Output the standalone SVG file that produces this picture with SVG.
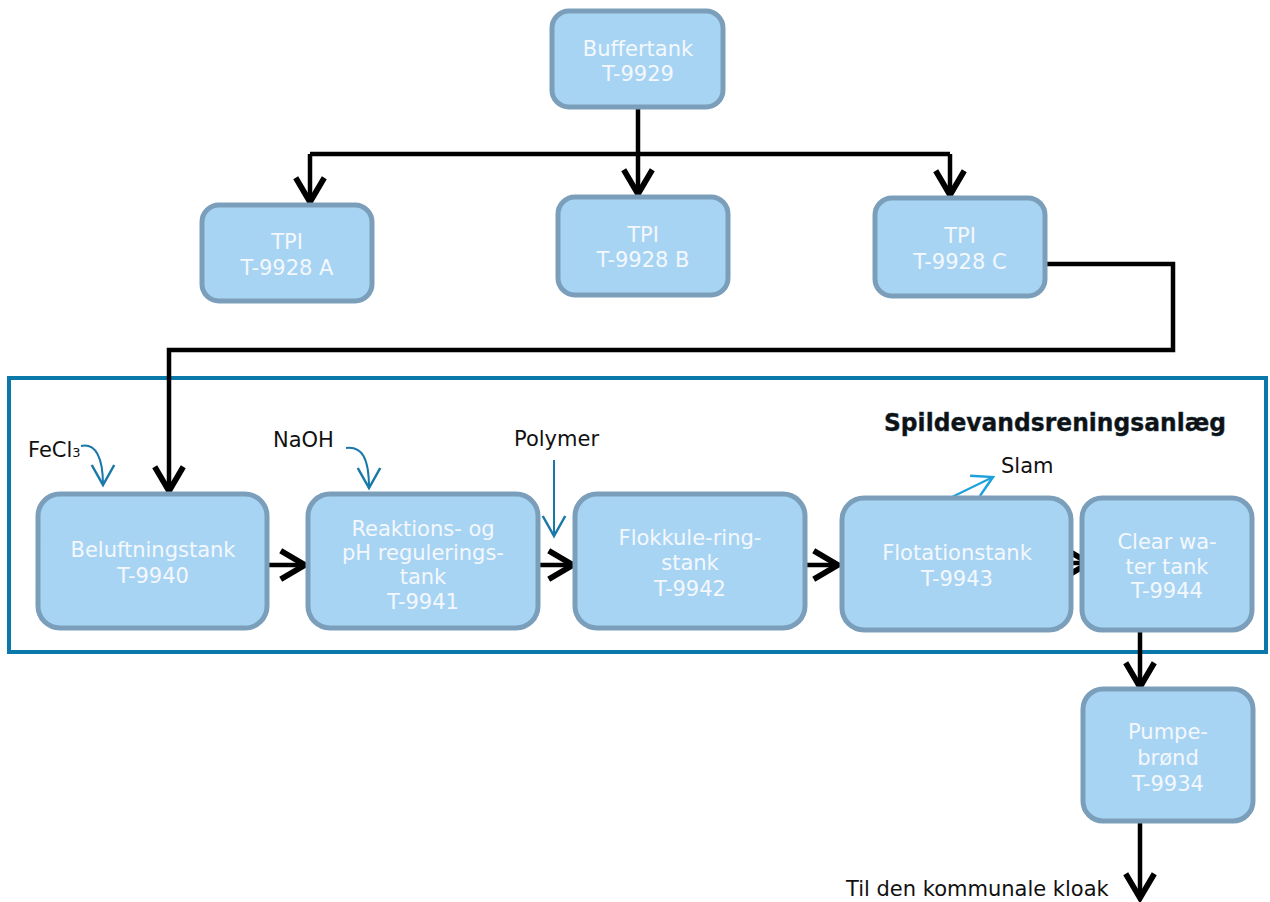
<svg xmlns="http://www.w3.org/2000/svg" width="1270" height="902" viewBox="0 0 1270 902">
<style>
.box{fill:#a8d4f4;stroke:#7b9fba;stroke-width:5}
.nt{font-family:"DejaVu Sans",Verdana,sans-serif;font-size:21px;fill:#f4f8fc;text-anchor:middle}
.lb{font-family:"DejaVu Sans",Verdana,sans-serif;font-size:21px;fill:#111}
.con{fill:none;stroke:#000;stroke-width:4.5}
.chem{fill:none;stroke:#1878a8;stroke-width:2}
</style>
<defs>
<marker id="ah" markerUnits="userSpaceOnUse" markerWidth="40" markerHeight="40" viewBox="-24 -14 28 28" refX="0" refY="0" orient="auto">
<path d="M-17,-10 L0,0 L-17,10" fill="none" stroke="#000" stroke-width="4" stroke-linejoin="miter"/>
</marker>
<marker id="bh" markerUnits="userSpaceOnUse" markerWidth="30" markerHeight="30" viewBox="-20 -12 24 24" refX="0" refY="0" orient="auto">
<path d="M-16,-9 L0,0 L-16,9" fill="none" stroke="#1878a8" stroke-width="2"/>
</marker>
<marker id="sh" markerUnits="userSpaceOnUse" markerWidth="30" markerHeight="30" viewBox="-20 -12 24 24" refX="0" refY="0" orient="auto">
<path d="M-16,-9 L0,0 L-16,9" fill="none" stroke="#1ea0dc" stroke-width="2"/>
</marker>
</defs>
<rect x="9" y="378" width="1257" height="274" fill="none" stroke="#0b78aa" stroke-width="4"/>
<text x="1226" y="431" text-anchor="end" font-family="'DejaVu Sans',sans-serif" font-weight="bold" font-size="25" fill="#111" stroke="#0b3550" stroke-width="0.4" textLength="342" lengthAdjust="spacingAndGlyphs">Spildevandsreningsanlæg</text>
<g id="connectors">
<path class="con" d="M638,107 V194" marker-end="url(#ah)"/>
<path class="con" d="M310,154 H950"/>
<path class="con" d="M310,154 V202" marker-end="url(#ah)"/>
<path class="con" d="M950,154 V195" marker-end="url(#ah)"/>
<path class="con" d="M1045,264 H1173 V350 H169 V491" marker-end="url(#ah)"/>
<path class="con" d="M267,565 H305" marker-end="url(#ah)"/>
<path class="con" d="M538,565 H573" marker-end="url(#ah)"/>
<path class="con" d="M805,565 H838" marker-end="url(#ah)"/>
<path class="con" d="M1071,563 H1089" marker-end="url(#ah)"/>
<path class="con" d="M1140,630 V687" marker-end="url(#ah)"/>
<path class="con" d="M1140,821 V898" marker-end="url(#ah)"/>
<path class="chem" d="M81,446 C96,443 103,458 103,485" marker-end="url(#bh)"/>
<path class="chem" d="M346,448 C362,446 369,458 369,488" marker-end="url(#bh)"/>
<path class="chem" d="M554,460 V536" marker-end="url(#bh)"/>
<path fill="none" stroke="#1ea0dc" stroke-width="2" d="M950,498 L993,477" marker-end="url(#sh)"/>
</g>
<g id="buffertank"><rect class="box" x="552" y="11" width="171" height="96" rx="17"/><text class="nt" x="638" y="56">Buffertank</text><text class="nt" x="638" y="81">T-9929</text></g>
<g id="tpi-a"><rect class="box" x="202" y="205" width="170" height="96" rx="17"/><text class="nt" x="287" y="249">TPI</text><text class="nt" x="287" y="275">T-9928 A</text></g>
<g id="tpi-b"><rect class="box" x="558" y="197" width="170" height="98" rx="17"/><text class="nt" x="643" y="242">TPI</text><text class="nt" x="643" y="267">T-9928 B</text></g>
<g id="tpi-c"><rect class="box" x="875" y="198" width="170" height="98" rx="17"/><text class="nt" x="960" y="243">TPI</text><text class="nt" x="960" y="269">T-9928 C</text></g>
<g id="beluftningstank"><rect class="box" x="38" y="494" width="229" height="134" rx="22"/><text class="nt" x="153" y="557">Beluftningstank</text><text class="nt" x="153" y="583">T-9940</text></g>
<g id="reaktionstank"><rect class="box" x="308" y="494" width="230" height="134" rx="22"/><text class="nt" x="423" y="536">Reaktions- og</text><text class="nt" x="423" y="560">pH regulerings-</text><text class="nt" x="423" y="584">tank</text><text class="nt" x="423" y="609">T-9941</text></g>
<g id="flokkuleringstank"><rect class="box" x="575" y="494" width="230" height="134" rx="22"/><text class="nt" x="690" y="545">Flokkule-ring-</text><text class="nt" x="690" y="570">stank</text><text class="nt" x="690" y="596">T-9942</text></g>
<g id="flotationstank"><rect class="box" x="842" y="498" width="229" height="132" rx="22"/><text class="nt" x="957" y="560">Flotationstank</text><text class="nt" x="957" y="586">T-9943</text></g>
<g id="clearwatertank"><rect class="box" x="1082" y="498" width="170" height="132" rx="20"/><text class="nt" x="1167" y="549">Clear wa-</text><text class="nt" x="1167" y="574">ter tank</text><text class="nt" x="1167" y="598">T-9944</text></g>
<g id="pumpebrond"><rect class="box" x="1083" y="689" width="170" height="132" rx="20"/><text class="nt" x="1168" y="739">Pumpe-</text><text class="nt" x="1168" y="765">brønd</text><text class="nt" x="1168" y="791">T-9934</text></g>
<text class="lb" x="28" y="457" font-size="20">FeCl<tspan font-size="13">3</tspan></text>
<text class="lb" x="273" y="447">NaOH</text>
<text class="lb" x="514" y="446">Polymer</text>
<text class="lb" x="1001" y="473">Slam</text>
<text class="lb" x="846" y="896">Til den kommunale kloak</text>
</svg>
